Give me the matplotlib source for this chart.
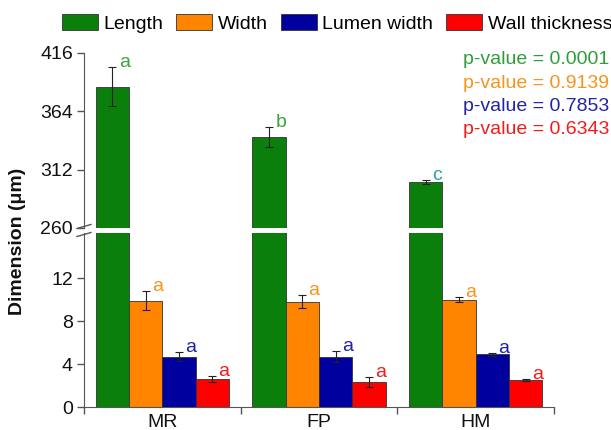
import numpy as np
import matplotlib.pyplot as plt
from matplotlib.patches import Patch
from matplotlib.lines import Line2D

plt.rcParams['font.family'] = ['Liberation Sans', 'DejaVu Sans']
plt.rcParams['font.size'] = 14

categories = ['MR', 'FP', 'HM']
series = ['Length', 'Width', 'Lumen width', 'Wall thickness']
length = [386, 341, 301]
length_err = [17.5, 9, 2]
width = [9.9, 9.8, 10.0]
width_err = [0.9, 0.6, 0.2]
lumen = [4.7, 4.7, 4.9]
lumen_err = [0.4, 0.5, 0.15]
wall = [2.6, 2.3, 2.5]
wall_err = [0.25, 0.45, 0.1]
letters = [['a', 'b', 'c'], ['a', 'a', 'a'], ['a', 'a', 'a'], ['a', 'a', 'a']]
pvalues = ['0.0001', '0.9139', '0.7853', '0.6343']

bar_colors = ['#0b7f0b', '#ff8400', '#00009e', '#ff0000']
text_colors = ['#2e9e3a', '#f7941d', '#2323a8', '#f01c1c']
letter_colors = [['#3aa63a', '#3aa63a', '#2aa3a3'], ['#f7941d'] * 3,
                 ['#2323a8'] * 3, ['#f01c1c'] * 3]

values = [length, width, lumen, wall]
errors = [length_err, width_err, lumen_err, wall_err]

W, H = 611, 430
fig = plt.figure(figsize=(W / 100, H / 100), dpi=100)

left, right = 84 / W, 554 / W
ax_top = fig.add_axes([left, 1 - 228 / H, right - left, (228 - 53) / H])
ax_bot = fig.add_axes([left, 1 - 407 / H, right - left, (407 - 233) / H])

x = np.arange(len(categories))
bw = 0.2125
axc = '#555555'

for ax in (ax_top, ax_bot):
    for j in range(4):
        ax.bar(x + (j - 1.5) * bw, values[j], bw, color=bar_colors[j],
               edgecolor='#333333', linewidth=0.6, zorder=2)
        ax.errorbar(x + (j - 1.5) * bw, values[j], yerr=errors[j], fmt='none',
                    ecolor='#222222', elinewidth=0.8, capsize=3, capthick=0.8, zorder=3)
    ax.set_xlim(-0.5, 2.5)
    ax.spines['right'].set_visible(False)
    ax.spines['top'].set_visible(False)
    ax.spines['left'].set_color(axc)
    ax.spines['bottom'].set_color(axc)
    ax.tick_params(axis='y', direction='out', length=5, width=1, color=axc, pad=3,
                   labelsize=14, labelcolor='#111111')

ax_top.set_ylim(260, 416)
ax_top.set_yticks([260, 312, 364, 416])
ax_top.spines['bottom'].set_visible(False)
ax_top.set_xticks([])

ax_bot.set_ylim(0, 16.2)
ax_bot.set_yticks([0, 4, 8, 12])
ax_bot.set_xticks(x)
ax_bot.set_xticklabels(categories)
ax_bot.set_xticks([-0.5, 0.5, 1.5, 2.5], minor=True)
ax_bot.tick_params(axis='x', which='major', length=0, pad=5, labelsize=14,
                   labelcolor='#111111')
ax_bot.tick_params(axis='x', which='minor', direction='out', length=5, width=1, color=axc)

# significance letters
for j in range(4):
    for i in range(3):
        v = values[j][i] + errors[j][i]
        ax = ax_top if values[j][i] > 100 else ax_bot
        ax.text(x[i] + (j - 1.5) * bw + 0.04, v, letters[j][i], color=letter_colors[j][i],
                ha='left', va='baseline', fontsize=14, zorder=4)

# axis break marks
for yb in (226.5, 234.5):
    fig.add_artist(Line2D([77 / W, 91 / W], [1 - (yb + 2) / H, 1 - (yb - 2) / H],
                          color=axc, linewidth=1))

fig.text(18 / W, 1 - 241 / H, 'Dimension (\u03bcm)', rotation=90, ha='center',
         va='center', fontsize=14, fontweight='bold', color='#111111')

for k, p in enumerate(pvalues):
    fig.text(609 / W, 1 - (60 + k * 23.3) / H, 'p-value = ' + p, color=text_colors[k],
             ha='right', va='center', fontsize=14)

handles = [Patch(facecolor=c, edgecolor='#333333', linewidth=0.6) for c in bar_colors]
fig.legend(handles, series, loc='center', bbox_to_anchor=(337 / W, 1 - 23.5 / H),
           ncol=4, frameon=False, fontsize=14, handlelength=1.85, handleheight=0.88,
           handletextpad=0.3, columnspacing=0.65, borderpad=0, borderaxespad=0)

fig.savefig('out.png', dpi=100)
